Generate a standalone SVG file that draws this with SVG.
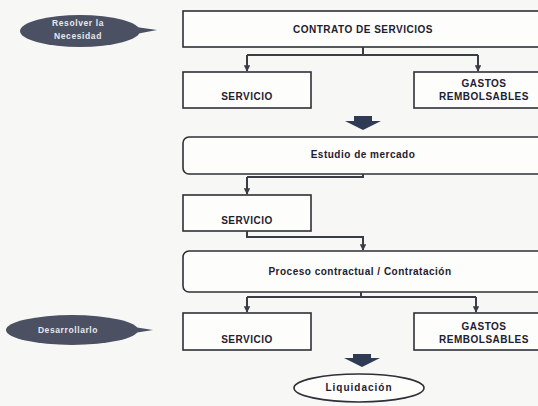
<svg xmlns="http://www.w3.org/2000/svg" width="538" height="406" viewBox="0 0 538 406">
<defs>
<marker id="ah" viewBox="0 0 10 10" refX="9" refY="5" markerWidth="3.2" markerHeight="3.2" orient="auto" markerUnits="strokeWidth">
<path d="M0,0 L10,5 L0,10 z" fill="#3a3d45"/>
</marker>
<style>
.box{fill:#fdfdfc;stroke:#2e3038;stroke-width:1.6}
.t{font-family:"Liberation Sans",Arial,sans-serif;font-weight:bold;font-size:10px;fill:#1d2030;text-anchor:middle;letter-spacing:0.5px}
.pill{fill:#4b5163}
.pt{font-family:"Liberation Sans",Arial,sans-serif;font-weight:bold;font-size:8.5px;fill:#e6e8ee;text-anchor:middle;letter-spacing:0.6px}
.c{fill:none;stroke:#3a3d45;stroke-width:2}
.blk{fill:#2f3a55}
</style>
</defs>
<rect width="538" height="406" fill="#f7f7f5"/>

<g id="resolver">
<ellipse class="pill" cx="80" cy="31" rx="60" ry="16"/>
<polygon class="pill" points="136,27 157,30 136,34"/>
<text class="pt" x="78" y="26">Resolver la</text>
<text class="pt" x="78" y="39">Necesidad</text>
</g>

<g id="contrato">
<rect class="box" x="183" y="11" width="362" height="36"/>
<text class="t" x="363" y="33">CONTRATO DE SERVICIOS</text>
</g>

<g id="servicio1">
<rect class="box" x="183" y="72" width="128" height="36"/>
<text class="t" x="247" y="100">SERVICIO</text>
</g>

<g id="gastos1">
<rect class="box" x="414" y="72" width="134" height="36"/>
<text class="t" x="484" y="87">GASTOS</text>
<text class="t" x="484" y="100">REMBOLSABLES</text>
</g>

<g id="flecha1">
<polygon class="blk" points="354,116 372,116 372,121 381,121 363,130 345,121 354,121"/>
</g>

<g id="estudio">
<rect class="box" x="183" y="137" width="362" height="37" rx="6"/>
<text class="t" x="363" y="158">Estudio de mercado</text>
</g>

<g id="servicio2">
<rect class="box" x="183" y="195" width="128" height="36"/>
<text class="t" x="247" y="224">SERVICIO</text>
</g>

<g id="proceso">
<rect class="box" x="183" y="251" width="362" height="41" rx="6"/>
<text class="t" x="360" y="275">Proceso contractual / Contratación</text>
</g>

<g id="desarrollarlo">
<ellipse class="pill" cx="72" cy="330" rx="66" ry="15"/>
<polygon class="pill" points="134,327 153,330 134,333"/>
<text class="pt" x="68" y="333">Desarrollarlo</text>
</g>

<g id="servicio3">
<rect class="box" x="183" y="313" width="128" height="37"/>
<text class="t" x="247" y="343">SERVICIO</text>
</g>

<g id="gastos3">
<rect class="box" x="414" y="313" width="134" height="37"/>
<text class="t" x="484" y="330">GASTOS</text>
<text class="t" x="484" y="343">REMBOLSABLES</text>
</g>

<g id="flecha2">
<polygon class="blk" points="353,354 371,354 371,358 380,358 362,367 344,358 353,358"/>
</g>

<g id="liquidacion">
<ellipse class="box" cx="359" cy="388" rx="65" ry="14"/>
<text class="t" x="359" y="391" style="letter-spacing:1px">Liquidación</text>
</g>

<g id="connectors">
<path class="c" d="M363,47 V55"/>
<path class="c" d="M247,55 H478"/>
<path class="c" d="M247,55 V71" marker-end="url(#ah)"/>
<path class="c" d="M478,55 V71" marker-end="url(#ah)"/>
<path class="c" d="M363,174 V177 H247"/>
<path class="c" d="M247,177 V194" marker-end="url(#ah)"/>
<path class="c" d="M247,231 V237 H363 V250" marker-end="url(#ah)"/>
<path class="c" d="M361,292 V297"/>
<path class="c" d="M247,297 H476"/>
<path class="c" d="M247,297 V312" marker-end="url(#ah)"/>
<path class="c" d="M476,297 V312" marker-end="url(#ah)"/>
</g>
</svg>
